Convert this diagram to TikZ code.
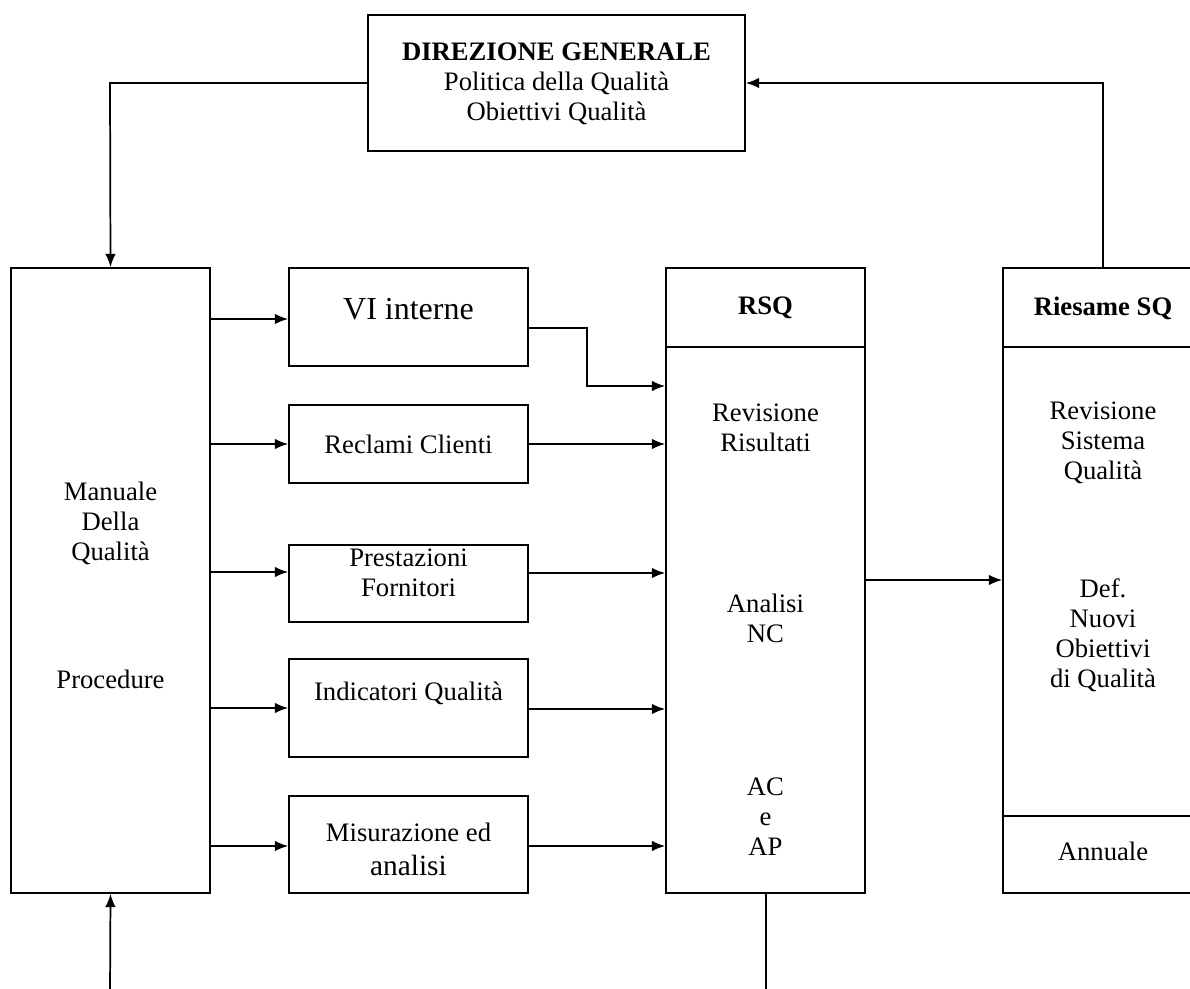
\documentclass[tikz,border=0pt]{standalone}
\usepackage{fontspec}
\setmainfont{Liberation Serif}
\usetikzlibrary{arrows.meta}
\tikzset{
  box/.style={draw, line width=1.3pt, inner sep=0pt},
  txt/.style={align=center, inner sep=0pt, font=\fontsize{20}{22.5}\selectfont},
  conn/.style={line width=1.3pt},
  arr/.style={conn, -{Latex[length=10pt,width=8pt]}},
}
\begin{document}
\begin{tikzpicture}[x=0.75pt,y=-0.75pt]
\useasboundingbox (0,0) rectangle (1190,989);
\clip (0,0) rectangle (1190,989);
% Direzione generale
\node[box, minimum width=377*0.75pt, minimum height=136*0.75pt] (dg) at (556.5,83) {};
\node[txt] (dgt) at (556.5,84) {\textbf{DIREZIONE GENERALE}\\Politica della Qualità\\Obiettivi Qualità};
% Manuale
\node[box, minimum width=199*0.75pt, minimum height=625*0.75pt] (man) at (110.5,580.5) {};
\node[txt] (mant) at (110.5,523) {Manuale\\Della\\Qualità};
\node[txt] (proc) at (110.5,679) {Procedure};
% small boxes
\node[box, minimum width=239*0.75pt, minimum height=98*0.75pt] (vi) at (408.5,317) {};
\node[txt, font=\fontsize{24}{27}\selectfont] (vit) at (408.5,309) {VI interne};
\node[box, minimum width=239*0.75pt, minimum height=78*0.75pt] (rec) at (408.5,444) {};
\node[txt] (rect) at (408.5,444) {Reclami Clienti};
\node[box, minimum width=239*0.75pt, minimum height=77*0.75pt] (pre) at (408.5,583.5) {};
\node[txt] (pret) at (408.5,573) {Prestazioni\\Fornitori};
\node[box, minimum width=239*0.75pt, minimum height=98*0.75pt] (ind) at (408.5,708) {};
\node[txt] (indt) at (408.5,693) {Indicatori Qualità};
\node[box, minimum width=239*0.75pt, minimum height=97*0.75pt] (mis) at (408.5,844.5) {};
\node[txt] (mist) at (408.5,849) {Misurazione ed\\[3pt]\fontsize{22}{22.5}\selectfont analisi};
% RSQ
\node[box, minimum width=199*0.75pt, minimum height=625*0.75pt] (rsq) at (765.5,580.5) {};
\draw[conn] (666,347) -- (865,347);
\node[txt] (rsqt) at (765.5,308) {\textbf{RSQ}};
\node[txt] (rsq1) at (765.5,428) {Revisione\\Risultati};
\node[txt] (rsq2) at (765.5,618) {Analisi\\NC};
\node[txt] (rsq3) at (765.5,817) {AC\\e\\AP};
% Riesame (cut by the right edge)
\node[box, minimum width=230*0.75pt, minimum height=625*0.75pt] (ries) at (1118,580.5) {};
\draw[conn] (1003,347) -- (1233,347);
\draw[conn] (1003,816) -- (1233,816);
\node[txt] (riest) at (1103,308) {\textbf{Riesame SQ}};
\node[txt] (ries1) at (1103,443) {Revisione\\Sistema\\Qualità};
\node[txt] (ries2) at (1103,635) {Def.\\Nuovi\\Obiettivi\\di Qualità};
\node[txt] (ries3) at (1103,851) {Annuale};
% connectors
\draw[arr] (dg.west) -- (110,83) -- (man.north);
\draw[arr] (1103,268) -- (1103,83) -- (dg.east);
\draw[arr] (210,319) -- (vi.west |- 0,319);
\draw[arr] (man.east |- rec.west) -- (rec.west);
\draw[arr] (210,572) -- (pre.west |- 0,572);
\draw[arr] (man.east |- ind.west) -- (ind.west);
\draw[arr] (210,846) -- (mis.west |- 0,846);
\draw[arr] (vi.east |- 0,328) -- (587,328) -- (587,386) -- (rsq.west |- 0,386);
\draw[arr] (rec.east) -- (rsq.west |- rec.east);
\draw[arr] (528,573) -- (rsq.west |- 0,573);
\draw[arr] (528,709) -- (rsq.west |- 0,709);
\draw[arr] (528,846) -- (rsq.west |- 0,846);
\draw[arr] (rsq.east |- 0,580) -- (ries.west |- 0,580);
\coordinate (b1) at (110,995);
\coordinate (b2) at (766,995);
\draw[arr] (b1) -- (man.south);
\draw[conn] (rsq.south -| b2) -- (b2);
\end{tikzpicture}
\end{document}
